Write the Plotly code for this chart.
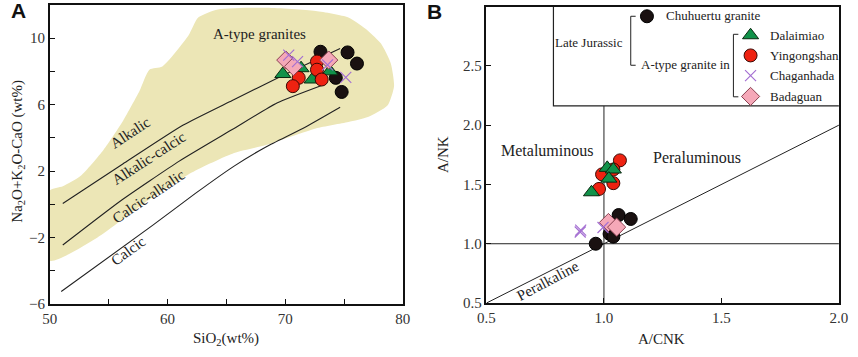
import plotly.graph_objects as go

# ---------------- Panel A data (SiO2 vs Na2O+K2O-CaO) ----------------
chu_a_x = [73.0, 75.3, 76.1, 74.3, 74.8]
chu_a_y = [9.18, 9.14, 8.47, 7.61, 6.76]
yin_a_x = [72.7, 72.7, 73.1, 71.15, 70.65]
yin_a_y = [8.59, 8.10, 7.51, 7.61, 7.11]
dal_a_x = [69.8, 71.35, 72.3, 73.8]
dal_a_y = [7.84, 8.19, 7.51, 8.0]
bad_a_x = [70.05, 70.7, 73.7]
bad_a_y = [8.68, 8.29, 8.68]
cha_a_x = [70.3, 71.05, 75.15, 73.6]
cha_a_y = [8.98, 8.59, 7.64, 8.39]

# MALI boundary curves
alk_x = [51.1, 56.2, 61.3, 65.5, 69.7, 74.67]
alk_y = [0.05, 2.43, 4.76, 6.25, 7.72, 9.37]
alkcal_x = [51.1, 56.0, 61.0, 65.5, 69.3, 73.15]
alkcal_y = [-2.45, 0.2, 2.6, 4.5, 6.1, 7.17]
calc_x = [50.97, 58.73, 62.34, 65.66, 68.44, 71.49, 74.67]
calc_y = [-5.25, -1.27, 0.64, 2.30, 3.48, 4.56, 5.84]

# A-type granite field
field_x = [50.0, 54.02, 58.18, 62.06, 65.66, 68.44, 72.6, 75.37, 77.03, 78.69, 79.25,
           78.97, 78.14, 77.03, 75.37, 72.6, 68.44, 64.28, 62.61, 61.78, 59.56, 58.46,
           57.62, 56.24, 54.57, 52.63, 51.11, 50.0, 50.0]
field_y = [-3.39, -2.01, 0.15, 1.91, 3.09, 3.58, 4.56, 4.95, 5.25, 5.94, 7.11,
           8.49, 9.67, 10.45, 11.24, 11.63, 11.83, 11.73, 11.24, 10.16, 8.29, 8.10,
           6.82, 5.05, 3.29, 1.72, 1.09, 0.83, -3.39]

# ---------------- Panel B data (A/CNK vs A/NK) ----------------
chu_b_x = [0.965, 1.024, 1.04, 1.0625, 1.114]
chu_b_y = [1.0, 1.083, 1.06, 1.242, 1.209]
yin_b_x = [1.068, 0.992, 1.04, 1.04, 0.979]
yin_b_y = [1.703, 1.585, 1.626, 1.511, 1.462]
dal_b_x = [0.947, 1.014, 1.04, 1.021]
dal_b_y = [1.434, 1.64, 1.626, 1.549]
bad_b_x = [1.019, 1.054]
bad_b_y = [1.179, 1.14]
cha_b_x = [0.901, 0.899, 0.996]
cha_b_y = [1.115, 1.099, 1.137]

SERIF = "Liberation Serif"
TXT = "#222222"

styles = {
    "chu": dict(symbol="circle", size=13, color="#1a1111", line=dict(color="#000", width=1)),
    "yin": dict(symbol="circle", size=13, color="#ee2211", line=dict(color="#3a0a05", width=1)),
    "dal": dict(symbol="triangle-up", size=14, color="#11924a", line=dict(color="#0a2a10", width=1)),
    "bad": dict(symbol="diamond", size=14, color="#f5a8b8", line=dict(color="#8a4050", width=1)),
    "cha": dict(symbol="x-thin", size=11, color="#b07fd8", line=dict(color="#a46fd2", width=1.2)),
}

fig = go.Figure()

fig.add_trace(go.Scatter(x=field_x, y=field_y, mode="lines", fill="toself",
                         fillcolor="#ece6b6", line=dict(color="#ece6b6", width=0, shape="spline", smoothing=0.6),
                         hoverinfo="skip", showlegend=False, xaxis="x", yaxis="y"))
for lx, ly in [(alk_x, alk_y), (alkcal_x, alkcal_y), (calc_x, calc_y)]:
    fig.add_trace(go.Scatter(x=lx, y=ly, mode="lines",
                             line=dict(color="#222", width=1.1, shape="spline", smoothing=0.5),
                             showlegend=False, xaxis="x", yaxis="y"))

for key, xs, ys in [("chu", chu_a_x, chu_a_y), ("dal", dal_a_x, dal_a_y), ("yin", yin_a_x, yin_a_y),
                    ("bad", bad_a_x, bad_a_y), ("cha", cha_a_x, cha_a_y)]:
    fig.add_trace(go.Scatter(x=xs, y=ys, mode="markers", marker=styles[key],
                             showlegend=False, xaxis="x", yaxis="y"))

# panel B reference lines
fig.add_trace(go.Scatter(x=[0.5, 2.0], y=[0.5, 2.0], mode="lines", line=dict(color="#222", width=1),
                         showlegend=False, xaxis="x2", yaxis="y2"))
fig.add_trace(go.Scatter(x=[0.5, 2.0], y=[1.0, 1.0], mode="lines", line=dict(color="#222", width=1),
                         showlegend=False, xaxis="x2", yaxis="y2"))
fig.add_trace(go.Scatter(x=[1.0, 1.0], y=[0.5, 2.162], mode="lines", line=dict(color="#222", width=1),
                         showlegend=False, xaxis="x2", yaxis="y2"))
fig.add_trace(go.Scatter(x=[0.785, 0.785, 2.0], y=[3.0, 2.162, 2.162], mode="lines",
                         line=dict(color="#222", width=1.2), showlegend=False, xaxis="x2", yaxis="y2"))

for key, xs, ys in [("chu", chu_b_x, chu_b_y), ("yin", yin_b_x, yin_b_y), ("dal", dal_b_x, dal_b_y),
                    ("bad", bad_b_x, bad_b_y), ("cha", cha_b_x, cha_b_y)]:
    fig.add_trace(go.Scatter(x=xs, y=ys, mode="markers", marker=styles[key],
                             showlegend=False, xaxis="x2", yaxis="y2"))

# custom legend with brackets
leg_names = ["Dalaimiao", "Yingongshan", "Chaganhada", "Badaguan"]
leg_keys = ["dal", "yin", "cha", "bad"]
leg_y = [2.758, 2.588, 2.418, 2.242]
fig.add_trace(go.Scatter(x=[1.183], y=[2.918], mode="markers", marker=styles["chu"],
                         showlegend=False, xaxis="x2", yaxis="y2"))
for k, yy in zip(leg_keys, leg_y):
    fig.add_trace(go.Scatter(x=[1.624], y=[yy], mode="markers", marker=styles[k],
                             showlegend=False, xaxis="x2", yaxis="y2"))
fig.add_trace(go.Scatter(x=[1.135, 1.114, 1.114, 1.135], y=[2.918, 2.918, 2.505, 2.505], mode="lines",
                         line=dict(color="#222", width=1), showlegend=False, xaxis="x2", yaxis="y2"))
fig.add_trace(go.Scatter(x=[1.572, 1.551, 1.551, 1.572], y=[2.766, 2.766, 2.239, 2.239], mode="lines",
                         line=dict(color="#222", width=1), showlegend=False, xaxis="x2", yaxis="y2"))

ann = []
def txt(x, y, s, xref="x", yref="y", size=14, angle=0, xanchor="center", family=SERIF, color=TXT):
    ann.append(dict(x=x, y=y, xref=xref, yref=yref, text=s, showarrow=False, textangle=angle,
                    xanchor=xanchor, yanchor="middle",
                    font=dict(family=family, size=size, color=color)))

txt(67.83, 10.26, "A-type granites", size=15)
txt(56.79, 4.31, "Alkalic", size=15, angle=-33)
txt(58.46, 2.76, "Alkalic-calcic", size=15, angle=-33)
txt(58.46, 0.48, "Calcic-alkalic", size=15, angle=-34)
txt(56.65, -2.80, "Calcic", size=15, angle=-36)

txt(0.7556, 1.786, "Metaluminous", xref="x2", yref="y2", size=16)
txt(1.396, 1.728, "Peraluminous", xref="x2", yref="y2", size=16)
txt(0.76, 0.687, "Peralkaline", xref="x2", yref="y2", size=15, angle=-28)

txt(0.9375, 2.70, "Late Jurassic", xref="x2", yref="y2", size=13)
txt(1.257, 2.923, "Chuhuertu granite", xref="x2", yref="y2", size=13, xanchor="left")
txt(1.346, 2.511, "A-type granite in", xref="x2", yref="y2", size=13)
for n, yy in zip(leg_names, leg_y):
    txt(1.70, yy, n, xref="x2", yref="y2", size=13, xanchor="left")

txt(0.2587, 0.028, "SiO<sub>2</sub>(wt%)", xref="paper", yref="paper", size=15)
txt(0.011, 0.566, "Na<sub>2</sub>O+K<sub>2</sub>O-CaO (wt%)", xref="paper", yref="paper", size=15, angle=-90)
txt(0.777, 0.028, "A/CNK", xref="paper", yref="paper", size=15)
txt(0.516, 0.557, "A/NK", xref="paper", yref="paper", size=15, angle=-90)

ann.append(dict(x=9.5 / 858, y=1 - 10.5 / 357, xref="paper", yref="paper", text="<b>A</b>", showarrow=False,
                xanchor="center", yanchor="middle", font=dict(family="Liberation Sans", size=21, color="#111")))
ann.append(dict(x=435 / 858, y=1 - 11.5 / 357, xref="paper", yref="paper", text="<b>B</b>", showarrow=False,
                xanchor="center", yanchor="middle", font=dict(family="Liberation Sans", size=21, color="#111")))

axis_common = dict(showline=True, linecolor="#111", linewidth=1.5, mirror=True, ticks="inside",
                   ticklen=5, tickcolor="#111", showgrid=False, zeroline=False,
                   tickfont=dict(family=SERIF, size=15, color="#333"))

fig.update_layout(
    width=858, height=357, margin=dict(l=0, r=0, t=0, b=0),
    paper_bgcolor="white", plot_bgcolor="white", showlegend=False,
    xaxis=dict(domain=[41.7 / 858, 402.3 / 858], range=[50, 80], tick0=50, dtick=10, anchor="y",
               minor=dict(tick0=50, dtick=5, ticks="inside", ticklen=5, tickcolor="#111", showgrid=False),
               **axis_common),
    yaxis=dict(domain=[(357 - 311) / 357, (357 - 5) / 357], range=[-6, 12], tick0=-6, dtick=4, anchor="x",
               minor=dict(tick0=-6, dtick=2, ticks="inside", ticklen=5, tickcolor="#111", showgrid=False),
               **axis_common),
    xaxis2=dict(domain=[487.7 / 858, 847.7 / 858], range=[0.5, 2.0], tick0=0.5, dtick=0.5,
                tickformat=".1f", anchor="y2", **axis_common),
    yaxis2=dict(domain=[(357 - 310) / 357, (357 - 6.7) / 357], range=[0.5, 3.0], tick0=0.5, dtick=0.5,
                tickformat=".1f", anchor="x2", **axis_common),
    annotations=ann,
)

fig.write_html("out.html", config={"displayModeBar": False},
               post_script="document.body.style.margin='0';document.body.style.overflow='hidden';")
